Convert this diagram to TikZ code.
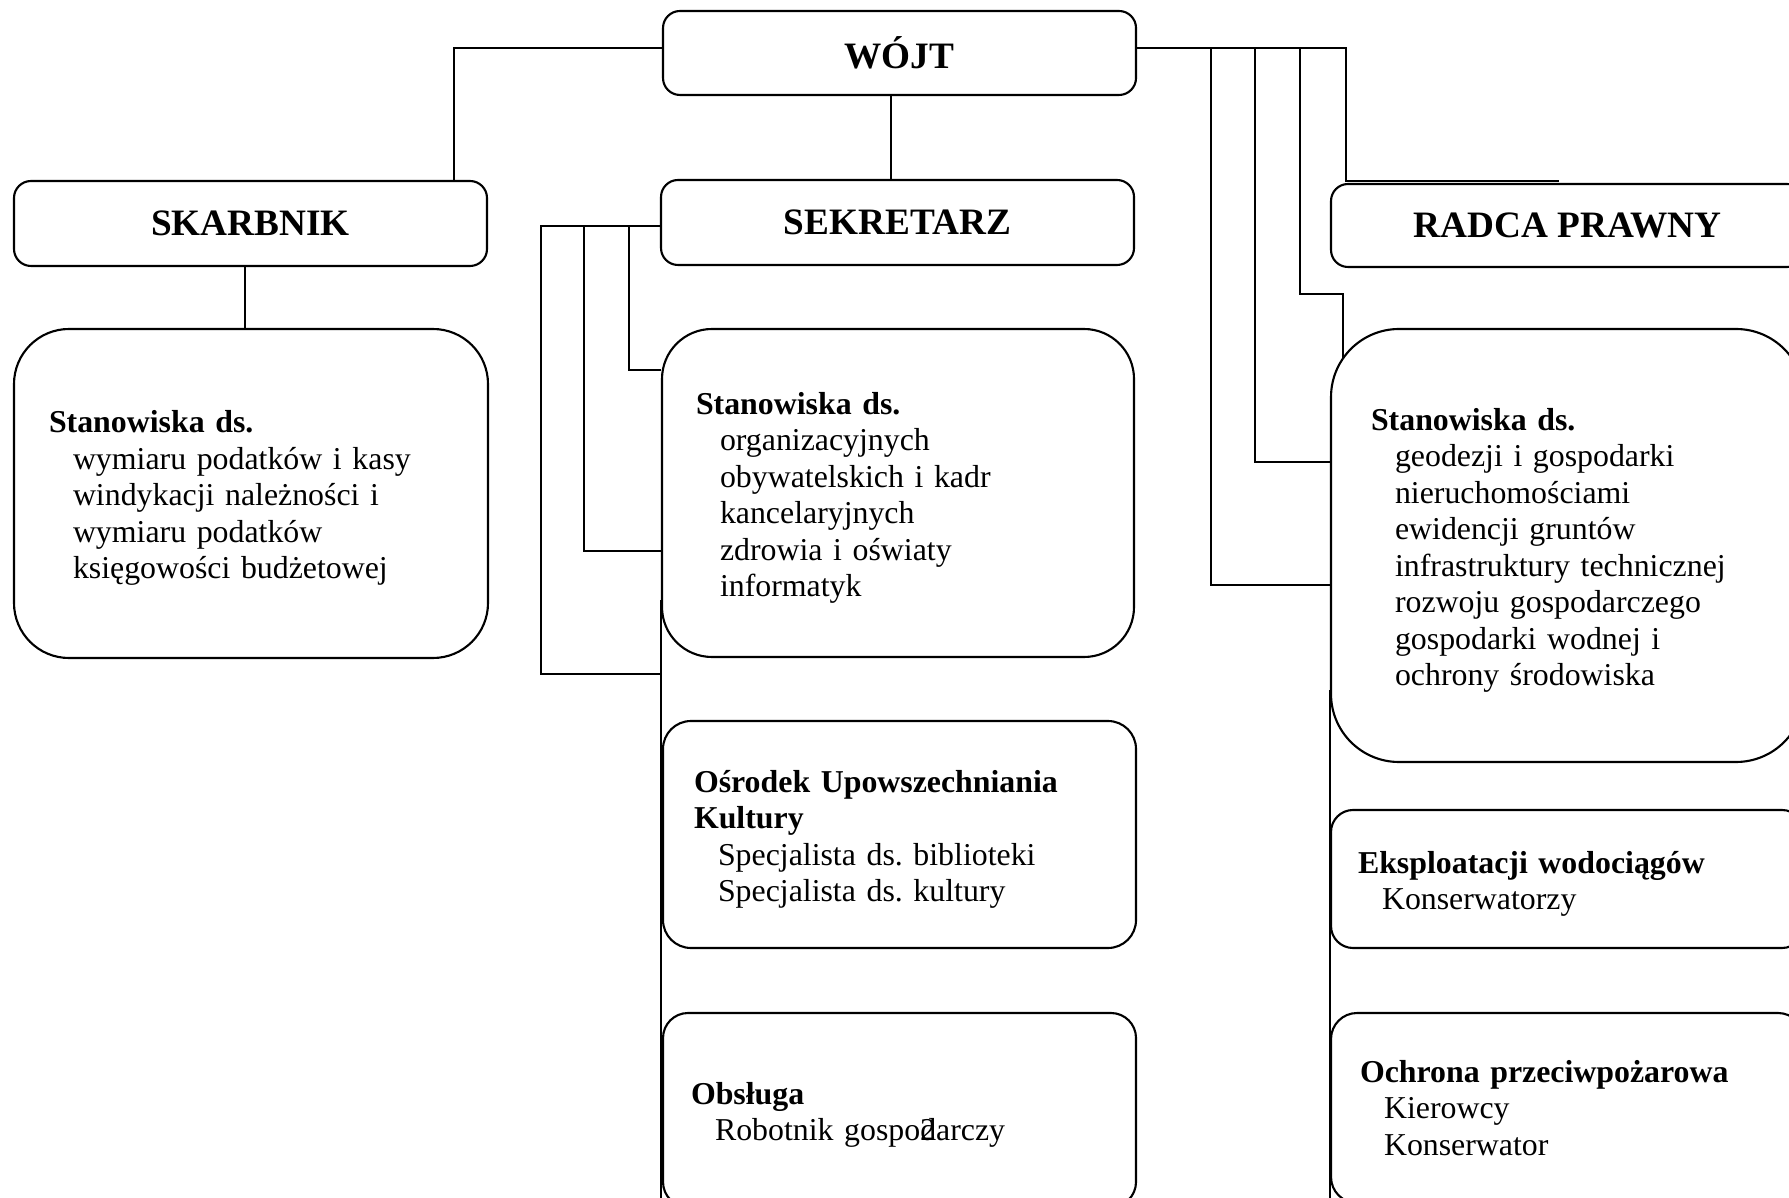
\documentclass[tikz,border=0pt]{standalone}
\usepackage{fontspec}
\setmainfont{Liberation Serif}
\frenchspacing
\newcommand{\wc}{\hspace*{2.4mm}}
\begin{document}
\begin{tikzpicture}[x=0.1mm, y=-0.1mm,
    head/.style={draw, line width=0.6pt, rounded corners=1.7mm, minimum width=47.3mm,
      font=\fontsize{10.6}{12}\selectfont\bfseries},
    unit/.style={draw, line width=0.6pt, align=left,
      font=\fontsize{9.06}{10.39}\selectfont,
      execute at begin node=\rule{0pt}{#1}},
    unit/.default=9pt,
    link/.style={line width=0.5pt}]
  \useasboundingbox (0,0) rectangle (1789,1198);
  \clip (0,0) rectangle (1789,1198);

  % top level
  \node[head, minimum height=8.4mm] (W) at (899.5,53) {WÓJT};
  \node[head, minimum height=8.5mm] (SK) at (250.5,223.5) {SKARBNIK};
  \node[head, minimum height=8.5mm] (SE) at (897.5,222.5) {SEKRETARZ};
  \node[head, minimum height=8.3mm] (RP) at (1567.5,225.5) {RADCA PRAWNY};

  % units
  \node[unit, rounded corners=5.5mm, inner xsep=3.5mm, text width=40.4mm, minimum height=32.9mm] (SKst) at (251,493.5)
    {\textbf{Stanowiska ds.}\\\wc wymiaru podatków i kasy\\\wc windykacji należności i\\\wc wymiaru podatków\\\wc księgowości budżetowej};
  \node[unit, rounded corners=5mm, inner xsep=3.4mm, text width=40.4mm, minimum height=32.8mm] (SEst) at (898,493)
    {\textbf{Stanowiska ds.}\\\wc organizacyjnych\\\wc obywatelskich i kadr\\\wc kancelaryjnych\\\wc zdrowia i oświaty\\\wc informatyk};
  \node[unit, rounded corners=2.8mm, inner xsep=3.1mm, text width=41.1mm, minimum height=22.7mm] (OUK) at (899.5,834.5)
    {\textbf{Ośrodek Upowszechniania}\\\textbf{Kultury}\\\wc Specjalista ds. biblioteki\\\wc Specjalista ds. kultury};
  \node[unit, rounded corners=2.5mm, inner xsep=2.8mm, text width=41.7mm, minimum height=19.4mm] (OBS) at (899.5,1110)
    {\textbf{Obsługa}\\\wc Robotnik gospo\rlap{2}darczy};
  \node[unit, rounded corners=6.8mm, inner xsep=4mm, text width=39.3mm, minimum height=43.3mm] (RPst) at (1567.5,545.5)
    {\textbf{Stanowiska ds.}\\\wc geodezji i gospodarki\\\wc nieruchomościami\\\wc ewidencji gruntów\\\wc infrastruktury technicznej\\\wc rozwoju gospodarczego\\\wc gospodarki wodnej i\\\wc ochrony środowiska};
  \node[unit, rounded corners=2.2mm, inner xsep=2.7mm, text width=41.9mm, minimum height=13.8mm] (EKS) at (1567.5,879)
    {\textbf{Eksploatacji wodociągów}\\\wc Konserwatorzy};
  \node[unit=5pt, rounded corners=2.6mm, inner xsep=2.9mm, text width=41.5mm, minimum height=19mm] (OCH) at (1567.5,1108)
    {\textbf{Ochrona przeciwpożarowa}\\\wc Kierowcy\\\wc Konserwator};

  % connectors
  \draw[link] (W.west |- 0,48) -| (SK.north -| 454,0);
  \draw[link] (W.south -| 891,0) -- (SE.north -| 891,0);
  \draw[link] (SK.south -| 245,0) -- (SKst.north -| 245,0);

  \draw[link] (SE.west |- 0,226) -- (541,226) |- (SEst.west |- 0,674);
  \draw[link] (584,226) |- (SEst.west |- 0,551);
  \draw[link] (629,226) |- (SEst.west |- 0,370);
  \draw[link] (SEst.west |- 0,600) -- (SEst.west |- 0,1210);

  \draw[link] (W.east |- 0,48) -- (1346,48) -- (1346,181) -- (1559,181);
  \draw[link] (1300,48) |- (1343,294) -- (1343,358);
  \draw[link] (1255,48) |- (RPst.west |- 0,462);
  \draw[link] (1211,48) |- (RPst.west |- 0,585);
  \draw[link] (RPst.west |- 0,690) -- (RPst.west |- 0,1210);
\end{tikzpicture}
\end{document}
